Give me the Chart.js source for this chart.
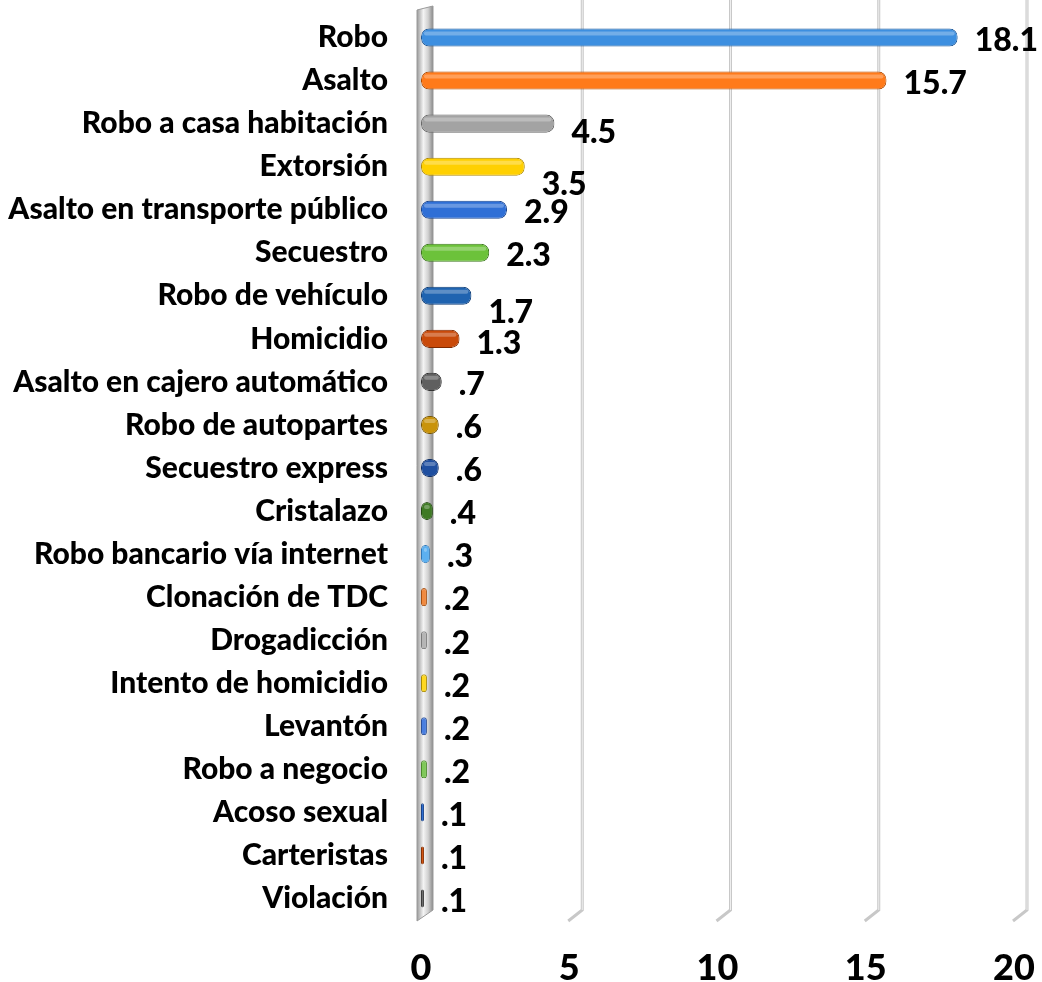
<!DOCTYPE html>
<html>
<head>
<meta charset="utf-8">
<script src="https://cdn.jsdelivr.net/npm/chart.js@4.4.0/dist/chart.umd.min.js"></script>
<style>
  html, body { margin: 0; padding: 0; background: #fff; }
  #wrap { width: 1042px; height: 982px; }
</style>
</head>
<body>
<div id="wrap"><canvas id="myChart" width="1042" height="982"></canvas></div>
<script>
// categorias y porcentajes
var categorias = ['Robo', 'Asalto', 'Robo a casa habitación', 'Extorsión', 'Asalto en transporte público',
    'Secuestro', 'Robo de vehículo', 'Homicidio', 'Asalto en cajero automático', 'Robo de autopartes',
    'Secuestro express', 'Cristalazo', 'Robo bancario vía internet', 'Clonación de TDC', 'Drogadicción',
    'Intento de homicidio', 'Levantón', 'Robo a negocio', 'Acoso sexual', 'Carteristas', 'Violación'];
var valores = [18.1, 15.7, 4.5, 3.5, 2.9, 2.3, 1.7, 1.3, 0.7, 0.6, 0.6, 0.4, 0.3, 0.2, 0.2, 0.2, 0.2, 0.2, 0.1, 0.1, 0.1];
var ticksX = [0, 5, 10, 15, 20];

// colores de cada barra (relleno, borde)
var colores = ['#3d8fe0', '#ff7a1a', '#a3a3a3', '#ffd000', '#2f6fd6', '#6cc23a', '#1f63b0', '#c94a0a',
    '#5f5f5f', '#c9930a', '#1f4fa0', '#3f7a25', '#5cb0f0', '#f08a40', '#b5b5b5', '#ffd820',
    '#4a7fe0', '#7fc85a', '#2a6ad0', '#d2500e', '#6a6a6a'];
var bordes = ['#1f5a9a', '#b44c00', '#6a6a6a', '#b08a00', '#1a4590', '#3f7a1f', '#103f78', '#7f2a00',
    '#333333', '#7a5800', '#0f2f68', '#234a12', '#2f78b8', '#a85010', '#7a7a7a', '#a88a00',
    '#2a4f98', '#4a8a2a', '#16428a', '#8a3000', '#3a3a3a'];

// fondo 3D: pared en el cero y lineas de division con "pie"
var fondo3d = {
    id: 'fondo3d',
    beforeDatasetsDraw: function (chart) {
        var ctx = chart.ctx, x = chart.scales.x, area = chart.chartArea;
        ctx.save();
        ticksX.forEach(function (t, i) {
            if (i === 0) return;
            var px = x.getPixelForValue(t);
            ctx.strokeStyle = '#c8c8c8';
            ctx.lineWidth = 3;
            ctx.beginPath();
            ctx.moveTo(px + 13, 0);
            ctx.lineTo(px + 13, area.bottom - 10);
            ctx.lineTo(px - 1, area.bottom + 1);
            ctx.stroke();
            ctx.strokeStyle = '#eeeeee';
            ctx.lineWidth = 1;
            ctx.beginPath();
            ctx.moveTo(px + 13, 0);
            ctx.lineTo(px + 13, area.bottom - 10);
            ctx.stroke();
        });
        // pared
        var x0 = x.getPixelForValue(0);
        var g = ctx.createLinearGradient(x0 - 4, 0, x0 + 12, 0);
        g.addColorStop(0, '#9a9a9a');
        g.addColorStop(0.4, '#f4f4f4');
        g.addColorStop(0.7, '#d0d0d0');
        g.addColorStop(1, '#8a8a8a');
        ctx.fillStyle = g;
        ctx.beginPath();
        ctx.moveTo(x0 - 4, area.top - 6);
        ctx.lineTo(x0 + 12, area.top - 10);
        ctx.lineTo(x0 + 12, area.bottom - 10);
        ctx.lineTo(x0 - 4, area.bottom + 1);
        ctx.closePath();
        ctx.fill();
        ctx.strokeStyle = '#9a9a9a';
        ctx.lineWidth = 1;
        ctx.stroke();
        ctx.restore();
    },
    afterDatasetsDraw: function (chart) {
        var ctx = chart.ctx;
        var meta = chart.getDatasetMeta(0);
        ctx.save();
        meta.data.forEach(function (bar) {
            var w = bar.x - bar.base;
            if (w < 6) return;
            // brillo superior
            ctx.fillStyle = 'rgba(255,255,255,0.28)';
            ctx.beginPath();
            ctx.roundRect(bar.base + 3, bar.y - bar.height / 2 + 3, w - 6, 4, 2);
            ctx.fill();
        });
        ctx.restore();
    }
};

// etiquetas de valor
var etiquetas = {
    id: 'etiquetas',
    afterDatasetsDraw: function (chart, args, opts) {
        var ctx = chart.ctx;
        var meta = chart.getDatasetMeta(0);
        ctx.save();
        ctx.font = '900 32px Lato';
        ctx.fillStyle = '#000';
        ctx.textAlign = 'left';
        ctx.textBaseline = 'middle';
        meta.data.forEach(function (bar, i) {
            var v = valores[i];
            var txt = v < 1 ? '.' + Math.round(v * 10) : v.toFixed(1);
            var dy = opts.ajuste[i] || 0;
            ctx.fillText(txt, bar.x + 17, bar.y + 3 + dy);
        });
        ctx.restore();
    }
};

var ctx = document.getElementById('myChart').getContext('2d');
var chart = new Chart(ctx, {
    type: 'bar',
    data: {
        labels: categorias,
        datasets: [{
            data: valores,
            backgroundColor: colores,
            borderColor: bordes,
            borderWidth: 1,
            borderRadius: 8,
            borderSkipped: false,
            barPercentage: 0.84,
            categoryPercentage: 0.5
        }]
    },
    options: {
        indexAxis: 'y',
        responsive: false,
        animation: false,
        layout: { padding: { top: 16, right: 28, bottom: 0, left: 0 } },
        plugins: {
            legend: { display: false },
            tooltip: { enabled: false },
            etiquetas: { ajuste: { 2: 6, 3: 15, 6: 14, 7: 2 } }
        },
        scales: {
            x: {
                min: 0,
                max: 20,
                ticks: {
                    stepSize: 5,
                    padding: 27,
                    color: '#000',
                    font: { family: 'Lato', weight: '900', size: 36 }
                },
                grid: { display: false, drawTicks: false },
                border: { display: false },
                afterFit: function (scale) {
                    scale.height = 62;
                    scale.paddingLeft = 0;
                    scale.paddingRight = 0;
                }
            },
            y: {
                ticks: {
                    padding: 33,
                    color: '#000',
                    font: { family: 'Lato', weight: '900', size: 30 }
                },
                grid: { display: false, drawTicks: false },
                border: { display: false },
                afterFit: function (scale) {
                    scale.width = 421;
                    scale.paddingTop = 0;
                    scale.paddingBottom = 0;
                }
            }
        }
    },
    plugins: [fondo3d, etiquetas]
});
</script>
</body>
</html>
